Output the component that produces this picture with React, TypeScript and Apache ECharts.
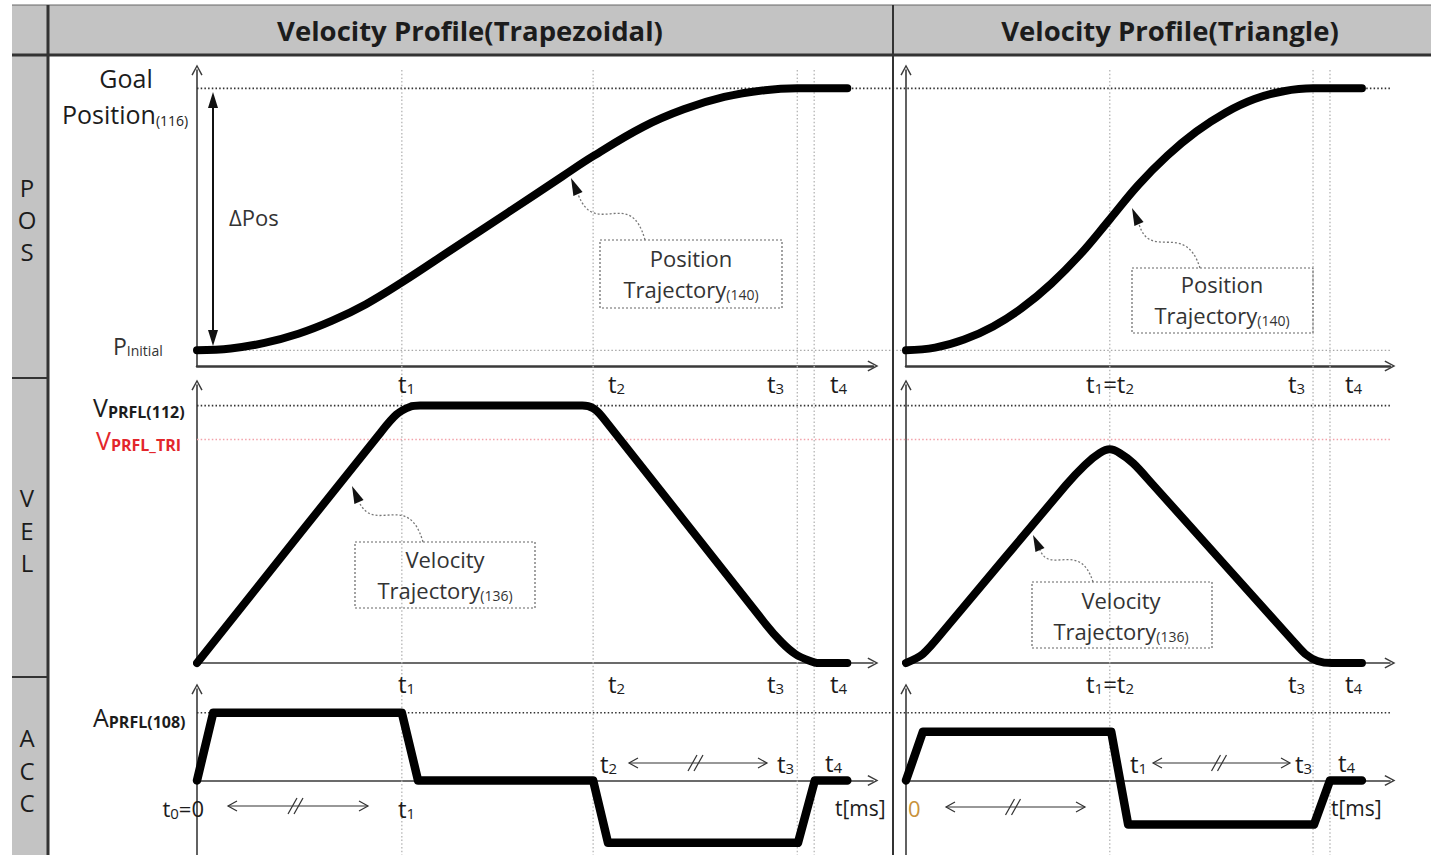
import React, { useEffect, useRef } from 'react';
import * as echarts from 'echarts';

const FONT = "'Open Sans', 'Noto Sans', 'DejaVu Sans', sans-serif";
const INK = '#1c1c1c';

// ===== DATA (time = % of each panel's time-axis span) =====
const trapPhaseTimes = [30.3, 58.6, 88.8, 91.3]; // t1, t2, t3, t4
const triPhaseTimes = [42.1, 84.1, 87.6]; // t1=t2, t3, t4

const trapPosT = [0, 5, 10, 15, 20, 25, 30.3, 38, 46, 54, 58.6, 66, 72, 78, 84, 88.8, 96.2];
const trapPosV = [0, 0.7, 2.8, 6.3, 11.3, 17.6, 25.9, 39, 52.6, 66.3, 74.1, 85.3, 92, 96.7, 99.3, 100, 100];
const trapVelT = [0, 27, 29.5, 31.5, 33, 57, 58.6, 60, 84, 86.5, 88.5, 90.5, 92, 96.2];
const trapVelV = [0, 89, 96.5, 99.5, 100, 100, 99, 95.5, 15.5, 8, 3.5, 1, 0, 0];
const trapAccT = [0, 2.4, 30.3, 32.7, 58.6, 60.8, 88.9, 91.4, 96.2];
const trapAccV = [0, 1, 1, 0, 0, -0.92, -0.92, 0, 0];

const triPosT = [0, 6, 12, 18, 24, 30, 36, 42.1, 48, 54, 60, 66, 72, 78, 84.1, 94.2];
const triPosV = [0, 1, 4.1, 9.1, 16.2, 25.4, 36.6, 50, 63.1, 74.3, 83.5, 90.7, 95.9, 98.9, 100, 100];
const triVelT = [0, 3.5, 8, 33, 37, 40, 42.1, 44.2, 47, 51, 80, 82.5, 85, 88, 94.2];
const triVelV = [0, 3.5, 13, 69, 77, 81.5, 83, 81.5, 77.5, 69.3, 8.5, 3.5, 0.8, 0, 0];
const triAccT = [0, 3.5, 42.4, 45.9, 84.3, 87.6, 94.2];
const triAccV = [0, 0.72, 0.72, -0.65, -0.65, 0, 0];

const goalPosition = 100;
const initialPosition = 0;
const vPrfl = 100;
const vPrflTri = 86.8;
const aPrfl = 1;

const headerTitles = ['Velocity Profile(Trapezoidal)', 'Velocity Profile(Triangle)'];
const rowLetters = [['P', 'O', 'S'], ['V', 'E', 'L'], ['A', 'C', 'C']];

// ===== LAYOUT =====
const COLS = [{ left: 197, width: 676 }, { left: 906, width: 484 }];
const ROWS = [
  { top: 70, height: 296, min: -6, max: 107 },
  { top: 385, height: 278, min: 0, max: 108 },
  { top: 689, height: 166, min: -1.1, max: 1.35 },
];
const DIVIDER_X = 893;
const zip = (t: number[], v: number[]) => t.map((x, i) => [x, v[i]]);

const CHEVRON = 'path://M0,11 L6,0 L12,11 L10.6,11.8 L6,3 L1.4,11.8 Z';

// ===== graphic helpers =====
const ln = (x1: number, y1: number, x2: number, y2: number, stroke: string, lineWidth: number, dash?: number[], z = 5) => ({
  type: 'line', silent: true, z,
  shape: { x1, y1, x2, y2 },
  style: { stroke, lineWidth, lineDash: dash || null },
});
const txt = (x: number, y: number, text: string, size: number, o: any = {}) => ({
  type: 'text', x, y, silent: true, z: 20,
  style: {
    text, fontSize: size, fontFamily: FONT, fontWeight: o.weight || 'normal',
    fill: o.color || INK, textAlign: o.align || 'left', textVerticalAlign: 'middle',
  },
});
const rtxt = (x: number, y: number, segs: [string, boolean][], o: any) => {
  const color = o.color || INK;
  return {
    type: 'text', x, y, silent: true, z: 20,
    style: {
      text: segs.map(([s, sub]) => `{${sub ? 's' : 'm'}|${s}}`).join(''),
      textAlign: o.align || 'left', textVerticalAlign: 'middle',
      rich: {
        m: { fontSize: o.size, fontFamily: FONT, fill: color, fontWeight: o.weight || 'normal' },
        s: {
          fontSize: o.subSize, fontFamily: FONT, fill: color, fontWeight: o.subWeight || o.weight || 'normal',
          padding: [2 * (o.drop ?? 5), 0, 0, 0],
        },
      },
    },
  };
};
const arrowHead = (tx: number, ty: number, bx: number, by: number, hw: number, fill = '#111') => {
  const dx = tx - bx, dy = ty - by;
  const L = Math.hypot(dx, dy);
  const nx = -dy / L, ny = dx / L;
  return {
    type: 'polygon', silent: true, z: 21,
    shape: { points: [[tx, ty], [bx + nx * hw, by + ny * hw], [bx - nx * hw, by - ny * hw]] },
    style: { fill },
  };
};
const chevron = (tx: number, ty: number, dir: number, len = 9, hw = 5) => ({
  type: 'polyline', silent: true, z: 21,
  shape: { points: [[tx - dir * len, ty - hw], [tx, ty], [tx - dir * len, ty + hw]] },
  style: { stroke: '#333', lineWidth: 1.2 },
});
const dblArrow = (x1: number, x2: number, y: number) => {
  const cx = (x1 + x2) / 2;
  return [
    ln(x1, y, x2, y, '#333', 1.2),
    chevron(x1, y, -1),
    chevron(x2, y, 1),
    ln(cx - 10, y + 8, cx - 1, y - 8, '#333', 1.2),
    ln(cx - 4, y + 8, cx + 5, y - 8, '#333', 1.2),
  ];
};
const wavy = (p0: number[], p1: number[], p2: number[], p3: number[], tip: number[]) => [
  {
    type: 'bezierCurve', silent: true, z: 19,
    shape: { x1: p0[0], y1: p0[1], cpx1: p1[0], cpy1: p1[1], cpx2: p2[0], cpy2: p2[1], x2: p3[0], y2: p3[1] },
    style: { stroke: '#777', lineWidth: 1.3, lineDash: [2, 2] },
  },
  arrowHead(tip[0], tip[1], p3[0], p3[1], 5),
];
const dotBox = (x: number, y: number, w: number, h: number) => ({
  type: 'rect', silent: true, z: 19,
  shape: { x, y, width: w, height: h },
  style: { fill: 'none', stroke: '#666', lineWidth: 1.2, lineDash: [2, 2] },
});
const T = (n: string): [string, boolean][] => [['t', false], [n, true]];
const TL = { size: 24, subSize: 15, drop: 5 };

function buildGraphic(chart: any) {
  const g: any[] = [];
  const px = (gi: number, x: number, y: number) => chart.convertToPixel({ gridIndex: gi }, [x, y]);

  // table structure
  g.push({ type: 'rect', silent: true, z: 0, shape: { x: 12, y: 5, width: 1419, height: 50 }, style: { fill: '#c3c3c3' } });
  g.push({ type: 'rect', silent: true, z: 0, shape: { x: 12, y: 5, width: 36, height: 850 }, style: { fill: '#c3c3c3' } });
  g.push(ln(12, 5, 1431, 5, '#666', 1));
  g.push(ln(12, 55, 1431, 55, '#333', 3));
  g.push(ln(48, 5, 48, 855, '#333', 3));
  g.push(ln(DIVIDER_X, 5, DIVIDER_X, 855, '#333', 2));
  g.push(ln(12, 378, 48, 378, '#333', 2));
  g.push(ln(12, 677, 48, 677, '#333', 2));

  // dotted reference lines, positioned through the axes' scales
  const dash = [1.5, 2.2];
  const hRefs: [number, number, string, number][] = [
    [0, goalPosition, '#333', 1.6],
    [0, initialPosition, '#a8a8a8', 1.3],
    [1, vPrfl, '#333', 1.6],
    [1, vPrflTri, '#f2a2aa', 1.6],
    [2, aPrfl, '#333', 1.6],
  ];
  hRefs.forEach(([ri, v, color, w]) => {
    const a = px(ri * 2, 0, v);
    const b = px(ri * 2 + 1, 100, v);
    g.push(ln(a[0], a[1], b[0], b[1], color, w, dash, 1));
  });
  [trapPhaseTimes, triPhaseTimes].forEach((times, ci) =>
    times.forEach((t) => {
      const top = px(ci, t, ROWS[0].max);
      const bot = px(4 + ci, t, ROWS[2].min);
      g.push(ln(top[0], top[1], bot[0], bot[1], '#b4b4b4', 1.3, dash, 1));
    })
  );

  // headers
  g.push(txt(470, 30, headerTitles[0], 27.5, { weight: 'bold', align: 'center' }));
  g.push(txt(1170, 30, headerTitles[1], 27.5, { weight: 'bold', align: 'center' }));
  // row letters
  const letterY = [[187, 219, 251], [497, 530, 562], [737, 770, 802]];
  rowLetters.forEach((row, ri) => row.forEach((ch, k) => g.push(txt(27, letterY[ri][k], ch, 24, { align: 'center' }))));

  // POS labels
  g.push(txt(126, 78, 'Goal', 25, { align: 'center' }));
  g.push(rtxt(62, 114, [['Position', false], ['(116)', true]], { size: 25, subSize: 14, drop: 6 }));
  g.push(rtxt(113, 346, [['P', false], ['Initial', true]], { size: 23, subSize: 14, drop: 4, color: '#333' }));
  g.push(txt(229, 217, '\u0394Pos', 22, { color: '#333' }));
  g.push(ln(213, 106, 213, 332, '#111', 2));
  g.push(arrowHead(213, 92, 213, 108, 5));
  g.push(arrowHead(213, 346, 213, 330, 5));

  // VEL / ACC labels
  g.push(rtxt(93, 407, [['V', false], ['PRFL(112)', true]], { size: 25, subSize: 16, drop: 5, subWeight: 'bold' }));
  g.push(rtxt(96, 440, [['V', false], ['PRFL_TRI', true]], { size: 25, subSize: 16, drop: 5, subWeight: 'bold', color: '#e3262c' }));
  g.push(rtxt(93, 717, [['A', false], ['PRFL(108)', true]], { size: 25, subSize: 16, drop: 5, subWeight: 'bold' }));

  // t labels under POS and VEL axes
  [383, 683].forEach((y) => {
    g.push(rtxt(398, y, T('1'), TL));
    g.push(rtxt(608, y, T('2'), TL));
    g.push(rtxt(767, y, T('3'), TL));
    g.push(rtxt(830, y, T('4'), TL));
    g.push(rtxt(1086, y, [['t', false], ['1', true], ['=t', false], ['2', true]], TL));
    g.push(rtxt(1288, y, T('3'), TL));
    g.push(rtxt(1345, y, T('4'), TL));
  });

  // ACC row labels (trapezoid)
  g.push(rtxt(204, 808, [['t', false], ['0', true], ['=0', false]], { ...TL, size: 22, align: 'right' }));
  g.push(rtxt(398, 808, T('1'), TL));
  g.push(...dblArrow(228, 368, 806));
  g.push(rtxt(600, 763, T('2'), TL));
  g.push(...dblArrow(629, 767, 763));
  g.push(rtxt(777, 763, T('3'), TL));
  g.push(rtxt(825, 762, T('4'), TL));
  g.push(txt(835, 808, 't[ms]', 21));
  // ACC row labels (triangle)
  g.push(txt(908, 808, '0', 22, { color: '#c8923c' }));
  g.push(...dblArrow(946, 1085, 807));
  g.push(rtxt(1130, 763, T('1'), TL));
  g.push(...dblArrow(1153, 1290, 763));
  g.push(rtxt(1295, 763, T('3'), TL));
  g.push(rtxt(1338, 762, T('4'), TL));
  g.push(txt(1331, 808, 't[ms]', 21));

  // annotation boxes
  const boxText = (cx: number, y1: number, y2: number, w1: string, num: string) => [
    txt(cx, y1, w1, 22, { align: 'center', color: '#333' }),
    rtxt(cx, y2, [['Trajectory', false], [num, true]], { size: 22, subSize: 14, drop: 5, align: 'center', color: '#333' }),
  ];
  g.push(dotBox(600, 240, 182, 68));
  g.push(...boxText(691, 258, 289, 'Position', '(140)'));
  g.push(...wavy([645, 240], [630, 185], [595, 240], [578, 194], [571, 178]));

  g.push(dotBox(355, 542, 180, 66));
  g.push(...boxText(445, 559, 590, 'Velocity', '(136)'));
  g.push(...wavy([423, 542], [408, 490], [375, 535], [359, 502], [352, 486]));

  g.push(dotBox(1132, 268, 181, 65));
  g.push(...boxText(1222, 284, 315, 'Position', '(140)'));
  g.push(...wavy([1200, 268], [1185, 220], [1150, 262], [1139, 224], [1132, 208]));

  g.push(dotBox(1032, 582, 180, 66));
  g.push(...boxText(1121, 600, 631, 'Velocity', '(136)'));
  g.push(...wavy([1093, 582], [1080, 540], [1050, 575], [1040, 550], [1033, 535]));
  return g;
}

function buildOption() {
  const grid: any[] = [];
  const xAxis: any[] = [];
  const yAxis: any[] = [];
  ROWS.forEach((r, ri) =>
    COLS.forEach((c, ci) => {
      const gi = ri * 2 + ci;
      grid.push({ left: c.left, top: r.top, width: c.width, height: r.height, containLabel: false, outerBoundsMode: 'none' });
      xAxis.push({
        gridIndex: gi, type: 'value', min: 0, max: 100,
        axisLabel: { show: false }, axisTick: { show: false }, splitLine: { show: false },
        axisLine: {
          show: true, onZero: ri !== 0, symbol: ['none', CHEVRON], symbolSize: [12, 11],
          lineStyle: { color: '#3a3a3a', width: ri === 0 ? 2.5 : 1.6 },
        },
      });
      yAxis.push({
        gridIndex: gi, type: 'value', min: r.min, max: r.max,
        axisLabel: { show: false }, axisTick: { show: false }, splitLine: { show: false },
        axisLine: {
          show: true, onZero: true, symbol: ['none', CHEVRON], symbolSize: [12, 11],
          lineStyle: { color: '#3a3a3a', width: 1.6 },
        },
      });
    })
  );

  const curves = [
    [zip(trapPosT, trapPosV), zip(triPosT, triPosV)],
    [zip(trapVelT, trapVelV), zip(triVelT, triVelV)],
    [zip(trapAccT, trapAccV), zip(triAccT, triAccV)],
  ];
  const smooths = [0.4, 0.3, 0];

  const series: any[] = [];
  ROWS.forEach((r, ri) =>
    COLS.forEach((c, ci) => {
      const gi = ri * 2 + ci;
      series.push({
        type: 'line', xAxisIndex: gi, yAxisIndex: gi, z: 3, silent: true, clip: false,
        data: curves[ri][ci], symbol: 'none', showSymbol: false,
        smooth: smooths[ri] || false,
        lineStyle: { color: '#000', width: ri === 2 ? 8.5 : 8, cap: 'round', join: 'round' },
      });
    })
  );

  return {
    animation: false,
    backgroundColor: '#ffffff',
    grid, xAxis, yAxis, series,
  };
}

export default function App() {
  const ref = useRef<HTMLDivElement>(null);
  useEffect(() => {
    const el = ref.current as HTMLDivElement;
    const chart = echarts.init(el, null, { renderer: 'svg' });
    chart.setOption(buildOption() as any);
    chart.setOption({ graphic: buildGraphic(chart) } as any);
    return () => chart.dispose();
  }, []);
  return (
    <div
      ref={ref}
      style={{ position: 'fixed', left: 0, top: 0, width: 1431, height: 855, background: '#fff' }}
    />
  );
}
